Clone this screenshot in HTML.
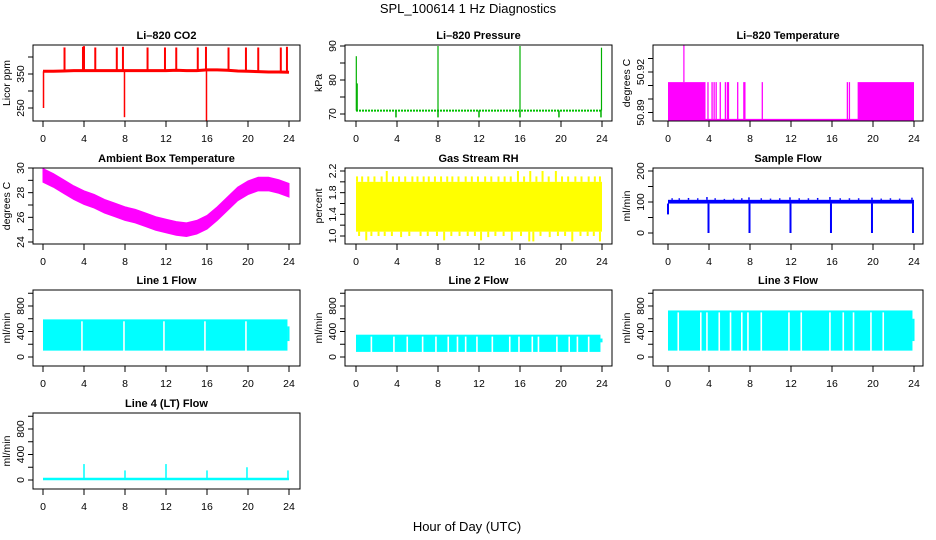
<!DOCTYPE html>
<html><head><meta charset="utf-8"><title>SPL_100614 1 Hz Diagnostics</title>
<style>
html,body{margin:0;padding:0;background:#fff;}
svg{display:block;font-family:"Liberation Sans",sans-serif;}
</style></head>
<body>
<svg id="fig" width="936" height="540" viewBox="0 0 936 540" xmlns="http://www.w3.org/2000/svg">
<text x="468" y="13" text-anchor="middle" font-size="13">SPL_100614  1 Hz Diagnostics</text>
<text x="467" y="531" text-anchor="middle" font-size="13">Hour of Day (UTC)</text>
</svg>
<script>
// ---------- data ----------
const hourTicks=[0,4,8,12,16,20,24];
const hourGrid=[0,1,2,3,4,5,6,7,8,9,10,11,12,13,14,15,16,17,18,19,20,21,22,23,24];
// CO2
const co2Base=[358,358,359,360,360,360,360,360,360,360,360,360,360,361,360,360,362,362,361,359,358,357,356,356,355];
const co2SpikeT=[2.1,3.9,4.0,5.1,7.2,7.8,10.2,11.9,13.0,15.1,15.9,18.1,19.8,21.0,23.2,23.8];
const co2SpikeV=[428,430,432,428,428,430,428,428,428,428,430,428,428,428,428,430];
const co2DipT=[0.05,7.95,15.95];
const co2DipV=[250,223,206];
// Pressure
const presBase=71;
const presSpikeT=[0.03,0.12,8.0,16.0,23.95];
const presSpikeV=[87,79,90,90,89.5];
const presDipT=[3.9,8.0,12.0,16.0,19.8,23.9];
const presDipV=[69,69,69,69,69,69];
// Li-820 temperature
const tempLow=50.8845, tempHigh=50.9125;
const tempBlockStart=[0,18.5], tempBlockEnd=[3.66,24];
const tempLineT=[3.9,4.3,4.5,4.7,5.1,5.6,5.8,5.9,6.8,7.4,7.5,9.2,17.5,17.7];
const tempSpikeT=[1.55], tempSpikeV=[50.94];
// Ambient box temperature (band centre, hourly)
const ambCenter=[29.4,29.0,28.5,28.0,27.6,27.3,26.9,26.6,26.3,26.1,25.8,25.5,25.3,25.1,25.0,25.2,25.6,26.3,27.1,27.9,28.4,28.7,28.7,28.5,28.2];
const ambHalf=[0.55];
// Gas stream RH
const rhLow=1.08, rhHigh=2.0;
const rhUpT=[0.1,0.6,1.2,1.8,2.5,3.0,3.6,4.2,4.8,5.5,6.0,6.6,7.1,7.7,8.3,8.9,9.4,10.0,10.7,11.3,11.9,12.6,13.2,13.9,14.5,15.1,15.8,16.4,17.0,17.6,18.2,18.8,19.5,20.1,20.7,21.4,22.0,22.7,23.3,23.8];
const rhUpV=[2.1,2.1,2.1,2.1,2.1,2.2,2.1,2.1,2.1,2.1,2.1,2.1,2.1,2.1,2.1,2.1,2.1,2.1,2.1,2.1,2.1,2.1,2.1,2.1,2.1,2.1,2.2,2.1,2.2,2.1,2.2,2.1,2.2,2.1,2.1,2.1,2.1,2.1,2.1,2.1];
const rhDnT=[0.3,1.0,1.5,2.2,2.8,3.5,4.4,5.2,6.3,7.0,7.9,8.6,9.3,10.1,10.9,11.6,12.2,12.9,13.6,14.4,15.2,16.1,16.9,17.3,18.0,18.9,19.7,20.4,21.1,21.9,22.6,23.2,23.8];
const rhDnV=[1.0,0.92,1.0,1.0,1.0,1.0,0.98,1.0,1.0,1.0,1.0,0.92,1.0,1.0,1.0,1.0,0.92,0.98,1.0,1.0,0.92,1.0,0.9,0.9,1.0,0.98,1.0,1.0,0.9,1.0,1.0,1.0,0.9];
// Sample flow
const sfLow=95, sfHigh=107;
const sfUpT=[0.4,1.1,2.0,2.9,3.8,4.6,5.5,6.4,7.2,7.9,9.1,10.0,10.9,11.9,12.8,13.7,14.6,15.8,16.8,17.7,18.6,19.9,20.8,21.7,22.6,23.8];
const sfUpV=[112,112,113,112,116,112,110,111,112,115,112,111,112,115,112,112,113,116,112,112,112,114,111,112,111,114];
const sfDipT=[0.0,3.95,7.95,11.95,15.9,19.9,23.9];
const sfDipV=[60,0,0,0,0,0,0];
// Line flows
const l1Low=100, l1High=590, l1EndV=[480];
const l1GapT=[3.8,7.9,11.8,15.8,19.8];
const l2Low=80, l2High=350, l2EndV=[290];
const l2GapT=[1.5,3.7,5.0,6.5,7.8,9.0,9.9,10.7,11.8,13.3,15.0,15.9,17.2,17.8,19.6,20.8,21.6,22.7];
const l3Low=100, l3High=730, l3EndV=[600];
const l3GapT=[1.0,3.2,3.8,5.0,6.1,7.2,7.8,9.1,11.8,13.0,15.8,17.1,18.1,19.8,21.0];
// Line 4
const l4Base=15;
const l4SpikeT=[4.0,8.0,12.0,16.0,19.9,23.9];
const l4SpikeV=[250,150,250,150,200,150];

// ---------- layout ----------
const NS="http://www.w3.org/2000/svg";
const svg=document.getElementById('fig');
function el(tag,attrs,parent){const e=document.createElementNS(NS,tag);for(const k in attrs)e.setAttribute(k,attrs[k]);parent.appendChild(e);return e;}
const cols=[{x0:33,x1:300,h0:43,h24:289},{x0:345,x1:612,h0:356,h24:602},{x0:653,x1:923,h0:668,h24:914}];
const rows=[{y0:45,y1:121},{y0:168,y1:244},{y0:290,y1:366},{y0:413,y1:489}];
let clipId=0;
function panel(name,title,ylab,c,r,ref,ticks,labels){
  const C=cols[c],R=rows[r];
  const g=el('g',{},svg);
  
  
  const sx=h=>C.h0+(h/24)*(C.h24-C.h0);
  const sy=v=>ref[1]+(v-ref[0])*(ref[3]-ref[1])/(ref[2]-ref[0]);
  const cid='clip'+(clipId++);
  const cp=el('clipPath',{id:cid},g);
  el('rect',{x:C.x0,y:R.y0,width:C.x1-C.x0,height:R.y1-R.y0},cp);
  const plot=el('g',{'clip-path':'url(#'+cid+')'},g);
  
  
  // title
  const t=el('text',{x:(C.x0+C.x1)/2,y:R.y0-6,'text-anchor':'middle','font-size':'11','font-weight':'bold'},g);
  t.textContent=title;
  
  
  // y label
  const yl=el('text',{x:0,y:0,'text-anchor':'middle','font-size':'10.5',transform:'translate('+(C.x0-23)+','+((R.y0+R.y1)/2)+') rotate(-90)'},g);
  yl.textContent=ylab;
  
  
  // x axis
  const xa=el('g',{stroke:'#000','stroke-width':'1'},g);
  
  
  hourTicks.forEach(h=>{
    el('line',{x1:sx(h),x2:sx(h),y1:R.y1,y2:R.y1+6},xa);
    const tl=el('text',{x:sx(h),y:R.y1+21,'text-anchor':'middle','font-size':'10.5',stroke:'none',fill:'#000'},xa);
    tl.textContent=String(h);
    
    
  });
  // y axis
  const ya=el('g',{stroke:'#000','stroke-width':'1'},g);
  
  
  ticks.forEach(v=>{
    el('line',{x1:C.x0-5,x2:C.x0,y1:sy(v),y2:sy(v)},ya);
  });
  labels.forEach(s=>{
    const v=parseFloat(s);
    const tl=el('text',{x:0,y:0,'text-anchor':'middle','font-size':'10.5',stroke:'none',fill:'#000',transform:'translate('+(C.x0-9)+','+sy(v)+') rotate(-90)'},ya);
    tl.textContent=s;
    
    
  });
  // box
  const bx=el('rect',{x:C.x0,y:R.y0,width:C.x1-C.x0,height:R.y1-R.y0,fill:'none',stroke:'#000','stroke-width':'1'},g);
  
  
  return {plot,sx,sy};
}
function vline(p,h,v1,v2,color,w,name){
  const l=el('line',{x1:p.sx(h),x2:p.sx(h),y1:p.sy(v1),y2:p.sy(v2),stroke:color,'stroke-width':w},p.plot);
  
  
}
function band(p,t0,t1,lo,hi,color,name){
  const r=el('rect',{x:p.sx(t0),y:p.sy(hi),width:p.sx(t1)-p.sx(t0),height:p.sy(lo)-p.sy(hi),fill:color},p.plot);
  
  
}

// CO2
(function(){
  const p=panel('co2','Li\u2013820 CO2','Licor ppm',0,0,[350,74,250,108],[250,300,350,400],['250','350']);
  const pl=el('polyline',{points:hourGrid.map((h,i)=>p.sx(h)+','+p.sy(co2Base[i])).join(' '),fill:'none',stroke:'#ff0000','stroke-width':'3'},p.plot);
  
  
  co2SpikeT.forEach((h,i)=>vline(p,h,co2Base[Math.round(h)],co2SpikeV[i],'#ff0000',2,'co2-spike'));
  co2DipT.forEach((h,i)=>vline(p,h,co2Base[Math.round(h)],co2DipV[i],'#ff0000',1.5,'co2-dip'));
})();
// Pressure
(function(){
  const p=panel('pressure','Li\u2013820 Pressure','kPa',1,0,[90,46,70,114],[70,75,80,85,90],['70','80','90']);
  const l=el('line',{x1:p.sx(0),x2:p.sx(24),y1:p.sy(presBase),y2:p.sy(presBase),stroke:'#00c000','stroke-width':'2','stroke-dasharray':'2 1'},p.plot);
  
  
  presSpikeT.forEach((h,i)=>vline(p,h,presBase,presSpikeV[i],'#00b000',1.2,'pressure-spike'));
  presDipT.forEach((h,i)=>vline(p,h,presBase,presDipV[i],'#00b000',1.5,'pressure-dip'));
})();
// Li-820 temperature
(function(){
  const p=panel('li820-temp','Li\u2013820 Temperature','degrees C',2,0,[50.92,72,50.89,112.5],[50.89,50.90,50.91,50.92,50.93],['50.89','50.92']);
  const l=el('line',{x1:p.sx(0),x2:p.sx(24),y1:p.sy(tempLow),y2:p.sy(tempLow),stroke:'#ff00ff','stroke-width':'2'},p.plot);
  
  
  tempBlockStart.forEach((s,i)=>band(p,s,tempBlockEnd[i],tempLow,tempHigh,'#ff00ff','li820-temp-block'));
  tempLineT.forEach(h=>vline(p,h,tempLow,tempHigh,'#ff00ff',1.3,'li820-temp-step'));
  tempSpikeT.forEach((h,i)=>vline(p,h,tempHigh,tempSpikeV[i],'#ff00ff',1.2,'li820-temp-spike'));
})();
// Ambient
(function(){
  const p=panel('ambient-temp','Ambient Box Temperature','degrees C',0,1,[30,168,24,242],[24,25,26,27,28,29,30],['24','26','28','30']);
  const up=hourGrid.map((h,i)=>p.sx(h)+','+p.sy(ambCenter[i]+ambHalf[0]));
  const dn=hourGrid.map((h,i)=>p.sx(h)+','+p.sy(ambCenter[i]-ambHalf[0])).reverse();
  const pg=el('polygon',{points:up.concat(dn).join(' '),fill:'#ff00ff',stroke:'#ff00ff','stroke-width':'1'},p.plot);
  
  
})();
// RH
(function(){
  const p=panel('rh','Gas Stream RH','percent',1,1,[2.2,171,1.0,236],[1.0,1.2,1.4,1.6,1.8,2.0,2.2],['1.0','1.4','1.8','2.2']);
  band(p,0,24,rhLow,rhHigh,'#ffff00','rh-series');
  rhUpT.forEach((h,i)=>vline(p,h,rhHigh,rhUpV[i],'#ffff00',2,'rh-spike'));
  rhDnT.forEach((h,i)=>vline(p,h,rhLow,rhDnV[i],'#ffff00',2,'rh-dip'));
})();
// Sample flow
(function(){
  const p=panel('sample-flow','Sample Flow','ml/min',2,1,[200,171,0,233],[0,50,100,150,200],['0','100','200']);
  band(p,0,24,sfLow,sfHigh,'#0000ff','sample-flow-series');
  sfUpT.forEach((h,i)=>vline(p,h,sfHigh,sfUpV[i],'#0000ff',1.5,'sample-flow-spike'));
  sfDipT.forEach((h,i)=>vline(p,h,sfLow,sfDipV[i],'#0000ff',2,'sample-flow-dip'));
})();
// Line flows
function lineFlow(name,title,c,r,lo,hi,gaps,endV){
  const ref=r===2?[0,357,800,306]:[0,480,800,429];
  const p=panel(name,title,'ml/min',c,r,ref,[0,200,400,600,800,1000],['0','400','800']);
  band(p,0,23.85,lo,hi,'#00ffff',name+'-series');
  band(p,23.85,24.05,lo+150,endV[0],'#00ffff',name+'-tail');
  gaps.forEach(h=>vline(p,h,lo-10,hi-30,'#ffffff',1.6,name+'-gap'));
}
lineFlow('line1-flow','Line 1 Flow',0,2,l1Low,l1High,l1GapT,l1EndV);
lineFlow('line2-flow','Line 2 Flow',1,2,l2Low,l2High,l2GapT,l2EndV);
lineFlow('line3-flow','Line 3 Flow',2,2,l3Low,l3High,l3GapT,l3EndV);
// Line 4
(function(){
  const p=panel('line4-flow','Line 4 (LT) Flow','ml/min',0,3,[0,480,800,429],[0,200,400,600,800,1000],['0','400','800']);
  const l=el('line',{x1:p.sx(0),x2:p.sx(24),y1:p.sy(l4Base),y2:p.sy(l4Base),stroke:'#00ffff','stroke-width':'2.5'},p.plot);
  
  
  l4SpikeT.forEach((h,i)=>vline(p,h,l4Base,l4SpikeV[i],'#00ffff',1.5,'line4-flow-spike'));
})();
</script>
</body></html>
